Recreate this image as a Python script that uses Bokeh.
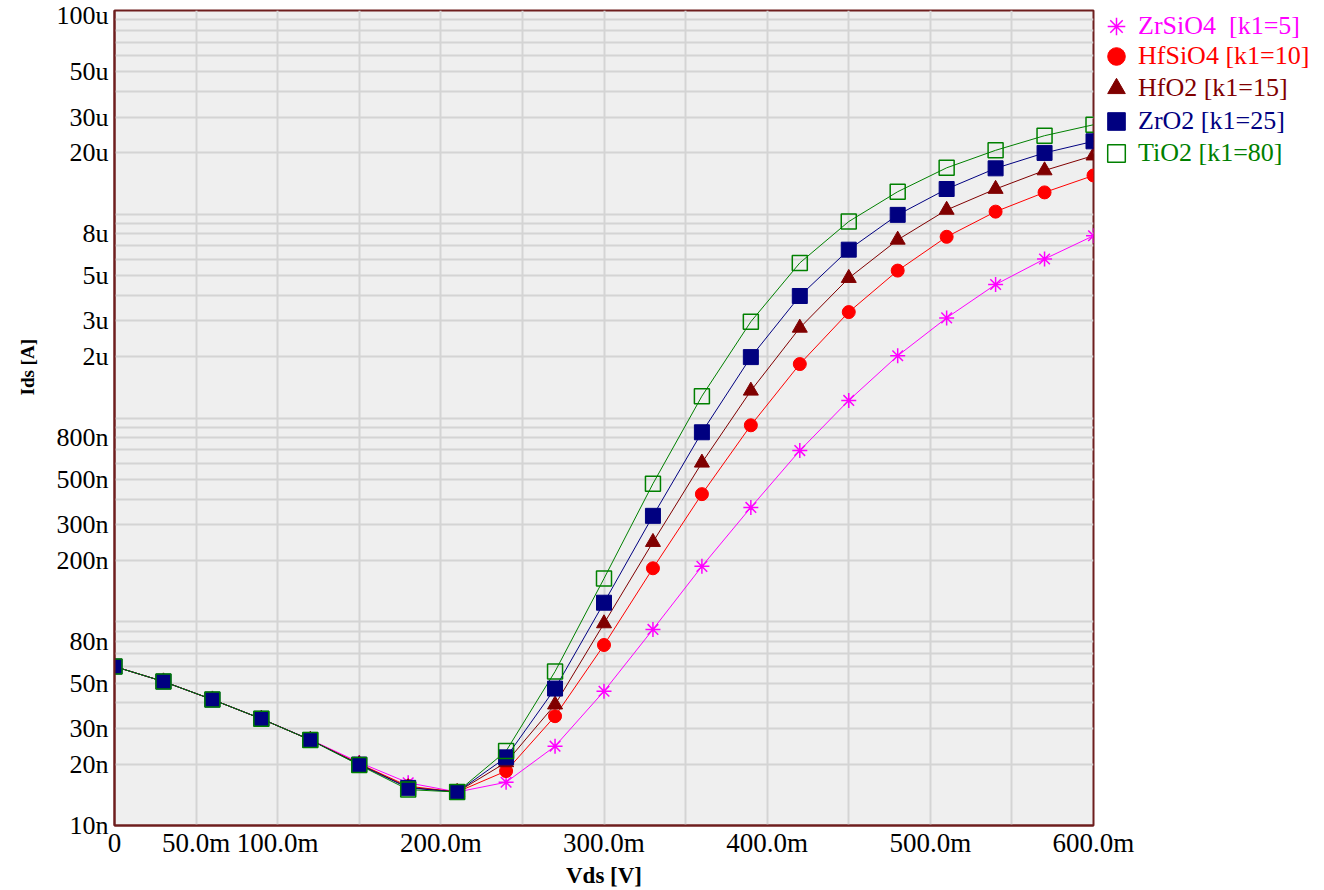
from bokeh.plotting import figure
from bokeh.layouts import row
from bokeh.models import (Range1d, FixedTicker, CustomJSTickFormatter, Legend,
                          LegendItem, Title)
from bokeh.embed import file_html
from bokeh.resources import INLINE

# ---------------- data ----------------
vds = [0.00, 0.03, 0.06, 0.09, 0.12, 0.15, 0.18, 0.21, 0.24, 0.27, 0.30,
       0.33, 0.36, 0.39, 0.42, 0.45, 0.48, 0.51, 0.54, 0.57, 0.60]

ids_zrsio4 = [60.3e-9, 50.9e-9, 41.5e-9, 33.4e-9, 26.4e-9, 20.4e-9, 16.2e-9, 14.6e-9,
              16.3e-9, 24.5e-9, 45.6e-9, 91.7e-9, 187e-9, 364e-9, 692e-9,
              1.22e-6, 2.02e-6, 3.10e-6, 4.52e-6, 6.03e-6, 7.84e-6]
ids_hfsio4 = [60.3e-9, 50.9e-9, 41.5e-9, 33.4e-9, 26.3e-9, 20.1e-9, 15.6e-9, 14.6e-9,
              18.5e-9, 34.4e-9, 76.9e-9, 183e-9, 423e-9, 921e-9, 1.84e-6,
              3.31e-6, 5.29e-6, 7.75e-6, 10.3e-6, 12.8e-6, 15.5e-6]
ids_hfo2 = [60.3e-9, 50.9e-9, 41.5e-9, 33.4e-9, 26.3e-9, 20.0e-9, 15.4e-9, 14.6e-9,
            20.4e-9, 39.2e-9, 98.1e-9, 246e-9, 603e-9, 1.36e-6, 2.77e-6,
            4.86e-6, 7.49e-6, 10.5e-6, 13.3e-6, 16.4e-6, 19.4e-6]
ids_zro2 = [60.3e-9, 50.9e-9, 41.5e-9, 33.4e-9, 26.3e-9, 19.9e-9, 15.3e-9, 14.6e-9,
            21.6e-9, 47.0e-9, 124e-9, 331e-9, 851e-9, 1.99e-6, 3.97e-6,
            6.70e-6, 9.93e-6, 13.3e-6, 16.8e-6, 20.0e-6, 22.8e-6]
ids_tio2 = [60.3e-9, 50.9e-9, 41.5e-9, 33.4e-9, 26.3e-9, 19.8e-9, 15.0e-9, 14.6e-9,
            23.2e-9, 57.0e-9, 163e-9, 476e-9, 1.28e-6, 2.97e-6, 5.77e-6,
            9.21e-6, 12.9e-6, 16.9e-6, 20.6e-6, 24.3e-6, 27.5e-6]

series_names = ["ZrSiO4  [k1=5]", "HfSiO4 [k1=10]", "HfO2 [k1=15]",
                "ZrO2 [k1=25]", "TiO2 [k1=80]"]
series_values = [ids_zrsio4, ids_hfsio4, ids_hfo2, ids_zro2, ids_tio2]

x_tick_values = [0.00, 0.05, 0.10, 0.15, 0.20, 0.25, 0.30, 0.35, 0.40, 0.45,
                 0.50, 0.55, 0.60]
x_label_values = [0.0, 0.05, 0.1, 0.2, 0.3, 0.4, 0.5, 0.6]
x_labels = ["0", "50.0m", "100.0m", "200.0m", "300.0m", "400.0m", "500.0m", "600.0m"]

y_label_values = [1e-4, 5e-5, 3e-5, 2e-5, 8e-6, 5e-6, 3e-6, 2e-6,
                  8e-7, 5e-7, 3e-7, 2e-7, 8e-8, 5e-8, 3e-8, 2e-8, 1e-8]
y_labels = ["100u", "50u", "30u", "20u", "8u", "5u", "3u", "2u",
            "800n", "500n", "300n", "200n", "80n", "50n", "30n", "20n", "10n"]
y_decades = [1e-8, 1e-7, 1e-6, 1e-5]

# ---------------- styles ----------------
FONT = "Liberation Serif"
colors = ["#ff00ff", "#ff0000", "#800000", "#000080", "#008000"]
markers = ["asterisk", "circle", "triangle", "square", "square"]
sizes = [15, 13, 15, 15, 15]
fills = ["#ff00ff", "#ff0000", "#800000", "#000080", None]
BORDER = "#6e1e1e"
W, H = 1324, 890
RIGHT = 231

y_tick_values = [k * d for d in y_decades for k in range(1, 10)] + [1e-4]

p = figure(width=W, height=H, title=None,
           x_range=Range1d(0, 0.6), y_range=Range1d(1e-8, 1e-4),
           y_axis_type="log", output_backend="svg", toolbar_location=None,
           min_border_left=114, min_border_right=RIGHT,
           min_border_top=10, min_border_bottom=60,
           background_fill_color="#efefef", border_fill_color="white")

p.outline_line_color = BORDER
p.outline_line_width = 2

# x axis
p.xaxis.ticker = FixedTicker(ticks=x_tick_values)
p.xaxis.formatter = CustomJSTickFormatter(
    args=dict(vals=x_label_values, labs=x_labels),
    code="""
    for (let i = 0; i < vals.length; i++) {
        if (Math.abs(tick - vals[i]) < 1e-9) { return labs[i]; }
    }
    return "";
    """)
p.xaxis.axis_label = "Vds [V]"
p.xaxis.axis_label_text_font = FONT
p.xaxis.axis_label_text_font_style = "bold"
p.xaxis.axis_label_text_font_size = "23px"
p.xaxis.axis_label_text_color = "black"
p.xaxis.axis_label_standoff = 2
p.xaxis.major_label_text_font = FONT
p.xaxis.major_label_text_font_size = "27px"
p.xaxis.major_label_text_color = "black"
p.xaxis.major_label_standoff = 2

# y axis
p.yaxis.ticker = FixedTicker(ticks=y_tick_values)
p.yaxis.formatter = CustomJSTickFormatter(
    args=dict(vals=y_label_values, labs=y_labels),
    code="""
    for (let i = 0; i < vals.length; i++) {
        if (Math.abs(tick / vals[i] - 1) < 1e-6) { return labs[i]; }
    }
    return "";
    """)
p.yaxis.major_label_text_font = FONT
p.yaxis.major_label_text_font_size = "26px"
p.yaxis.major_label_text_color = "black"
p.yaxis.major_label_standoff = 6

for ax in (p.xaxis, p.yaxis):
    ax.axis_line_color = BORDER
    ax.axis_line_width = 2
    ax.major_tick_out = 0
    ax.major_tick_in = 0
    ax.minor_tick_out = 0
    ax.minor_tick_in = 0

for g in (p.xgrid, p.ygrid):
    g.grid_line_color = "#d4d4d4"
    g.grid_line_width = 2

# y-axis title, placed in the left border
p.add_layout(Title(text="Ids [A]", align="left", offset=430, vertical_align="top",
                   standoff=28, text_font=FONT, text_font_style="bold",
                   text_font_size="19px", text_color="black"), "left")

# series
for vals, c in zip(series_values, colors):
    p.line(vds, vals, line_color=c, line_width=1)


def marker_style(c, m, s, f):
    if f is None:
        return dict(marker=m, size=s, fill_alpha=0, line_color=c, line_width=1.5)
    return dict(marker=m, size=s, fill_color=f, line_color=c,
                line_width=1.5 if m == "asterisk" else 1)


for vals, c, m, s, f in zip(series_values, colors, markers, sizes, fills):
    p.scatter(vds, vals, **marker_style(c, m, s, f))

# ---------------- legend panel (overlaid on the right border) ----------------
# its y range lies far above the data, so its renderers only supply legend keys
leg = figure(width=RIGHT, height=H, title=None,
             x_range=Range1d(0, 1), y_range=Range1d(1, 2),
             output_backend="svg", toolbar_location=None, min_border=0,
             x_axis_location=None, y_axis_location=None,
             background_fill_alpha=0, border_fill_alpha=0,
             outline_line_color=None, margin=(0, 0, 0, -RIGHT))
leg.xgrid.visible = False
leg.ygrid.visible = False

FRAME_H = 824
KEY = 44
row_centers = [25, 55, 87, 120, 152]
for name, vals, c, m, s, f, yc in zip(series_names, series_values, colors, markers,
                                      sizes, fills, row_centers):
    r = leg.scatter(vds, vals, **marker_style(c, m, s, f))
    lg = Legend(items=[LegendItem(label=name, renderers=[r])],
                location=(1, FRAME_H - yc - KEY // 2),
                padding=0, margin=0, spacing=0,
                glyph_width=KEY, glyph_height=KEY, label_standoff=0,
                label_text_font=FONT, label_text_font_size="26px",
                label_text_color=c, label_text_baseline="middle",
                background_fill_alpha=0, border_line_alpha=0)
    leg.add_layout(lg)

layout = row(p, leg, spacing=0)
open("out.html", "w").write(file_html(layout, INLINE))
